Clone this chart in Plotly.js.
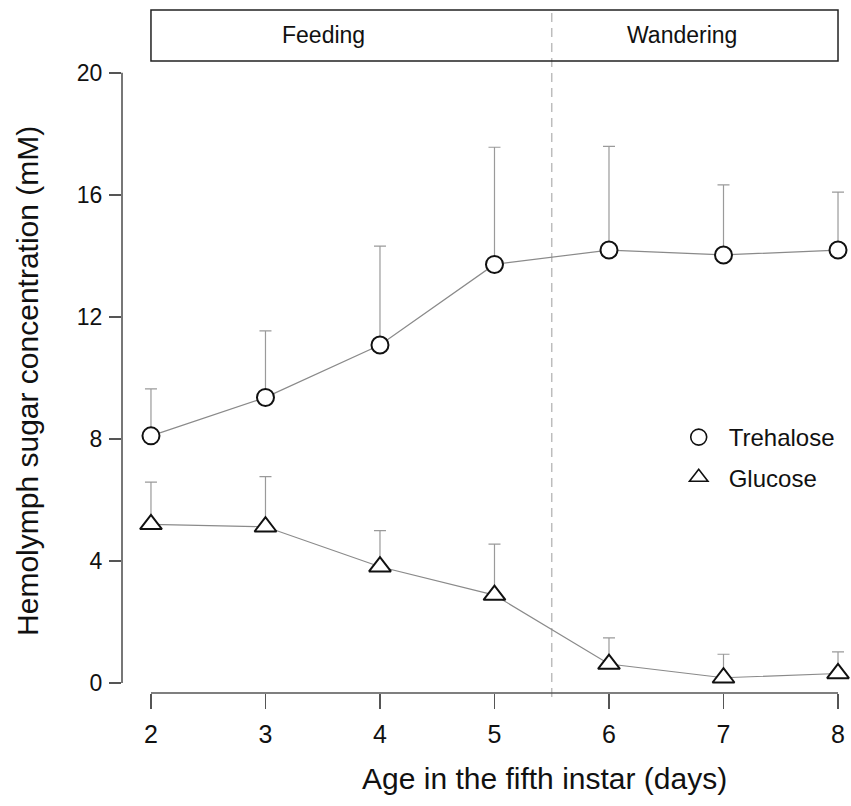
<!DOCTYPE html>
<html>
<head>
<meta charset="utf-8">
<script src="https://cdn.plot.ly/plotly-3.0.1.min.js"></script>
<style>
  html, body { margin: 0; padding: 0; background: #fff; }
  #chart { width: 851px; height: 806px; }
</style>
</head>
<body>
<div id="chart"></div>
<script>
// ---- Data ----
const days = [2, 3, 4, 5, 6, 7, 8];
const trehaloseMean = [8.10, 9.36, 11.08, 13.72, 14.19, 14.03, 14.19];
const trehaloseErr  = [1.54, 2.18, 3.24, 3.84, 3.40, 2.30, 1.90];
const glucoseMean   = [5.20, 5.12, 3.81, 2.88, 0.62, 0.17, 0.31];
const glucoseErr    = [1.38, 1.64, 1.18, 1.67, 0.86, 0.77, 0.71];
const zeros = [0, 0, 0, 0, 0, 0, 0];
const yTicks = [0, 4, 8, 12, 16, 20];
const seriesNames = ['Trehalose', 'Glucose'];
const phaseLabels = ['Feeding', 'Wandering'];
const phaseLabelX = [3.51, 6.64];
const phaseBoundary = 5.5;

const FONT = 'Liberation Sans, Arial, Helvetica, sans-serif';
const lineColor = '#8a8a8a';
const errColor = '#9a9a9a';
const axisColor = '#555555';

function series(name, y, err, symbol, size) {
  return {
    x: days, y: y, type: 'scatter', mode: 'lines+markers', name: name,
    showlegend: false, cliponaxis: false,
    line: { color: lineColor, width: 1.2 },
    marker: { symbol: symbol, size: size, color: '#ffffff', line: { color: '#111111', width: 2 } },
    error_y: { type: 'data', symmetric: false, array: err, arrayminus: zeros,
               color: errColor, thickness: 1.2, width: 6 }
  };
}
function legendEntry(name, symbol, size, group) {
  return {
    x: [null], y: [null], type: 'scatter', mode: 'markers', name: name,
    legendgroup: group, showlegend: true,
    marker: { symbol: symbol, size: size, color: '#ffffff', line: { color: '#111111', width: 1.6 } }
  };
}

const data = [
  series(seriesNames[0], trehaloseMean, trehaloseErr, 'circle', 17),
  series(seriesNames[1], glucoseMean, glucoseErr, 'triangle-up', 19),
  legendEntry(seriesNames[0], 'circle', 16, 'a'),
  legendEntry(seriesNames[1], 'triangle-up', 16, 'b')
];

const layout = {
  width: 851, height: 806,
  margin: { l: 122, r: 2, t: 10, b: 113 },
  paper_bgcolor: '#ffffff', plot_bgcolor: '#ffffff',
  font: { family: FONT, color: '#111111', size: 22 },
  showlegend: true,
  legend: {
    x: 0.752, xanchor: 'left', y: 0.407, yanchor: 'top',
    bgcolor: 'rgba(0,0,0,0)', borderwidth: 0,
    font: { family: FONT, size: 24, color: '#111111' },
    itemwidth: 50, traceorder: 'grouped', tracegroupgap: 6
  },
  xaxis: {
    range: [1.747, 8.096], tickvals: days, ticktext: days.map(String),
    ticks: 'outside', ticklen: 15, tickwidth: 1.5, tickcolor: axisColor,
    showline: false, showgrid: false, zeroline: false,
    tickfont: { family: FONT, size: 25, color: '#111111' },
    ticklabelstandoff: 4,
    fixedrange: true
  },
  yaxis: {
    range: [-0.33, 22.06], tickvals: yTicks, ticktext: yTicks.map(String),
    ticks: 'outside', ticklen: 12, tickwidth: 1.5, tickcolor: axisColor,
    showline: false, showgrid: false, zeroline: false,
    tickfont: { family: FONT, size: 23, color: '#111111' },
    ticklabelstandoff: 2,
    fixedrange: true
  },
  shapes: [
    { type: 'line', xref: 'paper', yref: 'y', x0: 0, x1: 0, y0: yTicks[0], y1: yTicks[yTicks.length - 1],
      line: { color: axisColor, width: 1.6 } },
    { type: 'line', xref: 'x', yref: 'paper', x0: days[0], x1: days[days.length - 1], y0: 0, y1: 0,
      line: { color: axisColor, width: 1.6 } },
    { type: 'line', xref: 'x', yref: 'paper', x0: phaseBoundary, x1: phaseBoundary, y0: -0.006, y1: 1,
      layer: 'below', line: { color: '#bdbdbd', width: 1.5, dash: '9px,6px' } },
    { type: 'rect', xref: 'x', yref: 'paper', x0: days[0], x1: days[days.length - 1], y0: 0.9254, y1: 1,
      line: { color: '#222222', width: 1.5 }, fillcolor: 'rgba(0,0,0,0)' }
  ],
  annotations: [
    { text: phaseLabels[0], xref: 'x', yref: 'paper', x: phaseLabelX[0], y: 0.9627,
      showarrow: false, xanchor: 'center', yanchor: 'middle',
      font: { family: FONT, size: 23, color: '#111111' } },
    { text: phaseLabels[1], xref: 'x', yref: 'paper', x: phaseLabelX[1], y: 0.9627,
      showarrow: false, xanchor: 'center', yanchor: 'middle',
      font: { family: FONT, size: 23, color: '#111111' } },
    { text: 'Hemolymph sugar concentration (mM)', xref: 'paper', yref: 'y',
      x: -0.1293, y: 9.9, textangle: -90, showarrow: false,
      xanchor: 'center', yanchor: 'middle',
      font: { family: FONT, size: 30, color: '#111111' } },
    { text: 'Age in the fifth instar (days)', xref: 'paper', yref: 'paper',
      x: 0.5818, y: -0.1259, showarrow: false, xanchor: 'center', yanchor: 'middle',
      font: { family: FONT, size: 30, color: '#111111' } }
  ]
};

Plotly.newPlot('chart', data, layout, { displayModeBar: false, staticPlot: true });
</script>
</body>
</html>
